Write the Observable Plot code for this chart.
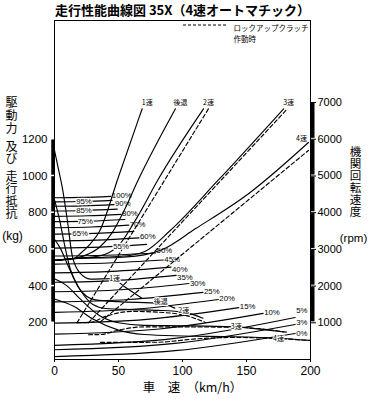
<!DOCTYPE html>
<html><head><meta charset="utf-8">
<script src="https://cdn.jsdelivr.net/npm/d3@7"></script>
<script src="https://cdn.jsdelivr.net/npm/@observablehq/plot@0.6"></script>
<style>
body{margin:0;background:#fff;}
#title{height:18px;line-height:20px;font-family:"Noto Sans CJK JP",sans-serif;font-weight:bold;font-size:13px;padding-left:55px;white-space:nowrap;color:#000;}
.vt text{writing-mode:vertical-rl;}
.vt1 text{letter-spacing:1px;}
.vt2 text{letter-spacing:0.5px;}
</style></head><body>
<div id="title">走行性能曲線図 35X（4速オートマチック）</div>
<div id="chart"></div>
<script>
// ---- ticks ----
const speedTicks = [0, 50, 100, 150, 200];
const forceTicks = [200, 400, 600, 800, 1000, 1200];
const rpmTicks = [1000, 2000, 3000, 4000, 5000, 6000, 7000];

// ---- running resistance on grades (kg) ----
const gradeLabels   = ["100%","95%","90%","85%","80%","75%","70%","65%","60%","55%","50%","45%","40%","35%","30%","25%","20%","15%","10%","5%","3%","0%"];
const gradeStartKg  = [881,859,835,809,780,751,718,683,646,607,564,520,472,421,369,314,257,198,138,77,53,16];
const gradeMidSpeed = [22,22.5,23,24.5,26,27.5,29,31,33,36,40,42,45,48,52,58,64,72,82,94,94,94];
const gradeMidKg    = [883,861,837,812,783,754,722,687,650,612,568,526,480,430,380,327,275,219,166,115,88,48];
const gradeEndSpeed = [44,45,46.5,49,52,55,58,62,66,72,79,85,91,95,105,116,128,144,163,188,188,188];
const gradeEndKg    = [889,867,844,819,791,763,732,698,663,627,580,542,503,458,414,366,327,283,251,229,191,142];
const gradeInline   = ["95%","85%","75%","65%","55%"];
const gradeInlineSpeed = [23,23,24,20,52];
const gradeLabelShift = {"50%": -3, "45%": -0.5, "40%": 2, "35%": 2, "30%": 0, "5%": -7, "3%": -2, "0%": 0};

// ---- driving force (kg), torque-converter range ----
const drive1  = [[0,1140],[3,1040],[6,940],[10,760],[14,560],[20,470],[28,438],[45,440],[55,395],[68,335]];
const driveR  = [[0,870],[4,760],[8,620],[12,500],[18,400],[25,345],[32,325],[50,315],[83,305],[94,280]];
const drive2  = [[0,655],[5,600],[10,520],[20,380],[30,300],[40,278],[60,272],[80,268],[101,258],[116,225]];
const drive3  = [[0,440],[10,400],[20,330],[35,240],[50,200],[70,186],[100,184],[140,178],[179,150]];
const drive4  = [[0,330],[15,290],[30,220],[50,160],[70,136],[100,128],[140,124],[174,116],[200,104]];
// ---- driving force with lock-up clutch engaged (kg) ----
const lock2   = [[17.6,200],[28,202],[40,235],[60,262],[85,256],[100,244],[118,202]];
const lock3   = [[26.5,135],[36,136],[50,160],[70,178],[140,176],[182,148]];
const lock4   = [[36,93],[80,94],[110,112],[140,120],[174,114],[198,104]];

// ---- engine speed (rpm) ----
const rpm1  = [[0,2700],[15,2750],[20,2880],[28,3150],[35,3480],[50,4980],[68.5,6830]];
const rpmR  = [[0,2700],[15,2750],[25,2850],[35,3050],[45,3450],[55,4100],[65,4860],[94.5,6830]];
const rpm2  = [[0,2700],[15,2750],[35,2820],[50,3100],[65,3900],[80.5,4877],[116.4,6830]];
const rpm3  = [[0,2700],[15,2750],[40,2790],[60,2840],[71,2950],[90,3500],[127.7,4877],[179,6830]];
const rpm4  = [[0,2700],[15,2750],[50,2780],[70,2850],[84,2990],[110,3560],[151.8,4523],[198.4,5913]];
const rpmLock2 = [[17.6,1000],[120.3,6830]];
const rpmLock3 = [[26.5,1000],[182,6830]];
const rpmLock4 = [[36,1030],[198.4,5695]];

const gearNames = ["1速","後退","2速","3速","4速"];
const driveLabelSpeed = [47,83,101,142,175];
const driveLabelKg    = [441,312,268,176,112];

// ---- build tables ----
const rows = (pairs, name) => pairs.map(([s, v]) => ({name, s, v}));
const gradeRows = gradeLabels.flatMap((g, i) => [
  {name: g, s: 0, v: gradeStartKg[i]},
  {name: g, s: gradeMidSpeed[i], v: gradeMidKg[i]},
  {name: g, s: gradeEndSpeed[i], v: gradeEndKg[i]}
]);
const gradeEnds = gradeLabels.map((g, i) => ({name: g, s: gradeEndSpeed[i], v: gradeEndKg[i],
    shift: g in gradeLabelShift ? gradeLabelShift[g] : -1}))
  .filter(d => !gradeInline.includes(d.name));
const shiftGroups = d3.groups(gradeEnds, d => d.shift);
const gradeInlineRows = gradeInline.map((g, j) => {
  const i = gradeLabels.indexOf(g);
  const s = gradeInlineSpeed[j];
  const t = s / gradeEndSpeed[i];
  return {name: g, s, v: gradeStartKg[i] + (gradeEndKg[i] - gradeStartKg[i]) * t * t};
});
const driveRows = [drive1, driveR, drive2, drive3, drive4].flatMap((p, i) => rows(p, gearNames[i]));
const lockRows = [lock2, lock3, lock4].flatMap((p, i) => rows(p, "L" + (i + 2)));
const rpmRows = [rpm1, rpmR, rpm2, rpm3, rpm4].flatMap((p, i) => rows(p, gearNames[i]));
const rpmLockRows = [rpmLock2, rpmLock3, rpmLock4].flatMap((p, i) => rows(p, "L" + (i + 2)));
const rpmTops = [rpm1, rpmR, rpm2, rpm3].map((p, i) => ({name: gearNames[i], s: p[p.length-1][0], v: p[p.length-1][1]}));
const rpmTop4 = [{name: "4速", s: rpm4[rpm4.length-1][0], v: rpm4[rpm4.length-1][1]}];
const driveLabels = gearNames.map((g, i) => ({name: g, s: driveLabelSpeed[i], v: driveLabelKg[i]}));

// bar segments along the axes (with small gaps at ticks)
const leftBars = forceTicks.slice(0, -1).map((t, i) => ({a: t + 4, b: forceTicks[i + 1] - 4}));
const rightBars = rpmTicks.slice(0, -1).map((t, i) => ({a: (t + 25) / 5, b: (rpmTicks[i + 1] - 25) / 5}));

const num = "'Liberation Sans',sans-serif";
const jp = "'Noto Sans CJK JP',sans-serif";
const lw = 1.15;

const legendMark = (index, scales, values, dim) => {
  const g = d3.create("svg:g");
  g.append("line").attr("x1", dim.width - dim.marginRight - 127).attr("x2", dim.width - dim.marginRight - 82)
    .attr("y1", 7).attr("y2", 7).attr("stroke", "black").attr("stroke-width", 1).attr("stroke-dasharray", "3,2");
  return g.node();
};

const chart = Plot.plot({
  width: 370, height: 381,
  marginLeft: 54, marginRight: 60, marginTop: 2, marginBottom: 40,
  x: {domain: [0, 200]},
  y: {domain: [0, 1847]},
  style: {background: "white", color: "black", fontFamily: num, overflow: "visible"},
  marks: [
    Plot.frame({stroke: "black", strokeWidth: 1}),
    // grade resistance
    Plot.line(gradeRows, {x: "s", y: "v", z: "name", curve: "natural", stroke: "black", strokeWidth: lw}),
    // driving force
    Plot.line(driveRows, {x: "s", y: "v", z: "name", curve: "monotone-x", stroke: "black", strokeWidth: lw}),
    Plot.line(lockRows, {x: "s", y: "v", z: "name", curve: "monotone-x", stroke: "black", strokeWidth: lw, strokeDasharray: "4,2.5"}),
    // engine speed (rpm/5 -> same pixel scale as kg)
    Plot.line(rpmRows, {x: "s", y: d => d.v / 5, z: "name", curve: "monotone-x", stroke: "black", strokeWidth: lw}),
    Plot.line(rpmLockRows, {x: "s", y: d => d.v / 5, z: "name", stroke: "black", strokeWidth: lw, strokeDasharray: "4,2.5"}),
    // labels
    ...shiftGroups.map(([shift, data]) =>
      Plot.text(data, {x: "s", y: "v", text: "name", textAnchor: "start", dx: 1, dy: shift, fontSize: 7.8, fontFamily: num})),
    Plot.text(gradeInlineRows, {x: "s", y: "v", text: "name", fontSize: 7.8, fontFamily: num, stroke: "white", strokeWidth: 2.5, fill: "black"}),
    Plot.text(rpmTops, {x: "s", y: d => d.v / 5, text: "name", dx: 5, dy: -6, fontSize: 7, fontFamily: jp}),
    Plot.text(rpmTop4, {x: "s", y: d => d.v / 5, text: "name", dx: -7, dy: -4, fontSize: 7, fontFamily: jp}),
    Plot.text(driveLabels, {x: "s", y: "v", text: "name", fontSize: 7, fontFamily: jp, stroke: "white", strokeWidth: 2, fill: "black"}),
    // legend
    legendMark,
    Plot.text(["ロックアップクラッチ"], {frameAnchor: "top-right", dx: -77, dy: 5, textAnchor: "start", fontSize: 7.5, fontFamily: jp}),
    Plot.text(["作動時"], {frameAnchor: "top-right", dx: -77, dy: 16, textAnchor: "start", fontSize: 7.5, fontFamily: jp}),
    // axis bars
    Plot.ruleX(leftBars, {x: 0, y1: "a", y2: "b", strokeWidth: 3.5, dx: -1.5, stroke: "black"}),
    Plot.ruleX(rightBars, {x: 200, y1: "a", y2: "b", strokeWidth: 4, dx: 2, stroke: "black"}),
    // axes
    Plot.axisX({ticks: speedTicks, tickFormat: d => String(d), tickSize: 3, tickPadding: 4, label: null, fontSize: 12, fontFamily: num}),
    Plot.axisY({ticks: forceTicks, tickFormat: d => String(d), tickSize: 0, tickPadding: 7, label: null, fontSize: 11.5, fontFamily: num}),
    Plot.axisY({anchor: "right", ticks: rpmTicks.map(d => d / 5), tickFormat: d => String(d * 5), tickSize: 5, tickPadding: 2, label: null, fontSize: 11, fontFamily: num}),
    // axis titles (vertical writing)
    Plot.text(["駆動力"], {frameAnchor: "top-left", textAnchor: "start", dx: -43, dy: 67, fontSize: 12, fontFamily: jp, className: "vt vt1"}),
    Plot.text(["及び"], {frameAnchor: "top-left", textAnchor: "start", dx: -43, dy: 111, fontSize: 12, fontFamily: jp, className: "vt"}),
    Plot.text(["走行抵抗"], {frameAnchor: "top-left", textAnchor: "start", dx: -43, dy: 141, fontSize: 12, fontFamily: jp, className: "vt vt2"}),
    Plot.text(["(kg)"], {frameAnchor: "top-left", textAnchor: "middle", dx: -42, dy: 211, fontSize: 12, fontFamily: num}),
    Plot.text(["機関回転速度"], {frameAnchor: "top-right", textAnchor: "start", dx: 45, dy: 117, fontSize: 11.5, fontFamily: jp, className: "vt vt2"}),
    Plot.text(["(rpm)"], {frameAnchor: "top-right", textAnchor: "middle", dx: 43, dy: 213, fontSize: 11.5, fontFamily: num}),
    Plot.text(["車　速　（km/h）"], {frameAnchor: "bottom", dx: 10, dy: 32, fontSize: 12.5, fontFamily: jp})
  ]
});
document.getElementById("chart").appendChild(chart);
</script>
</body></html>
